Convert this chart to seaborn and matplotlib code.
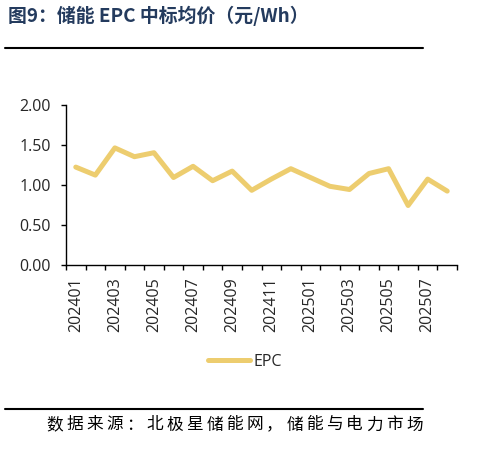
import matplotlib
matplotlib.use("Agg")
import matplotlib.pyplot as plt
import seaborn as sns
import pandas as pd
import numpy as np

months = ["202401", "202402", "202403", "202404", "202405", "202406", "202407",
          "202408", "202409", "202410", "202411", "202412", "202501", "202502",
          "202503", "202504", "202505", "202506", "202507", "202508"]
epc = [1.22, 1.12, 1.46, 1.35, 1.40, 1.09, 1.23, 1.05, 1.17, 0.93,
       1.07, 1.20, 1.09, 0.98, 0.94, 1.14, 1.20, 0.74, 1.07, 0.92]
y_ticks = [0.0, 0.5, 1.0, 1.5, 2.0]
title = "图9：储能 EPC 中标均价（元/Wh）"
source = "数据来源：北极星储能网，储能与电力市场"

sns.set_theme(style="white")
plt.rcParams['font.family'] = ['Open Sans', 'Noto Sans CJK SC', 'DejaVu Sans']
cjk = ['Noto Sans CJK SC', 'DejaVu Sans']

df = pd.DataFrame({"idx": np.arange(len(months)), "month": months, "EPC": epc})

W, H = 482, 451
fig = plt.figure(figsize=(W/100, H/100), dpi=100)
ax = fig.add_axes([66/W, 1 - 264.7/H, (457-66)/W, 160/H])

line_color = "#EDCD6F"
sns.lineplot(data=df, x="idx", y="EPC", ax=ax, color=line_color, linewidth=3.6,
             label="EPC", legend=False)

ax.set_xlim(-0.5, len(months) - 0.5)
ax.set_ylim(0, 2.0)
ax.set_yticks(y_ticks)
ax.set_yticklabels([f"{v:.2f}" for v in y_ticks], fontsize=11.5)
ax.set_xticks(np.arange(-0.5, len(months), 1.0))
ax.set_xticklabels([])
ax.set_xticks(np.arange(0, len(months), 2), minor=True)
ax.set_xticklabels([months[i] for i in range(0, len(months), 2)], minor=True,
                   rotation=90, fontsize=11.5)
ax.tick_params(axis="x", which="major", direction="out", length=3.6, width=1, color="black", bottom=True)
ax.tick_params(axis="x", which="minor", length=0, pad=9, bottom=True)
ax.tick_params(axis="y", direction="out", length=3.6, width=1, color="black", left=True, pad=7.5)
ax.set_xlabel("")
ax.set_ylabel("")
for s in ["top", "right"]:
    ax.spines[s].set_visible(False)
for s in ["left", "bottom"]:
    ax.spines[s].set_color("black")
    ax.spines[s].set_linewidth(1)
ax.grid(False)

handles, labels = ax.get_legend_handles_labels()
fig.legend(handles, labels, loc="center", bbox_to_anchor=(245/W, 1 - 362/H),
           frameon=False, fontsize=11.5, handlelength=2.6, handletextpad=0.2)

fig.add_artist(plt.Line2D([5/W, 423/W], [1 - 48/H, 1 - 48/H],
                          transform=fig.transFigure, color="black", linewidth=1.5))
fig.add_artist(plt.Line2D([5/W, 423/W], [1 - 409/H, 1 - 409/H],
                          transform=fig.transFigure, color="black", linewidth=1.5))

renderer = fig.canvas.get_renderer()

# title, sized to span the same width as in the reference (x 8..308)
t = fig.text(8/W, 1 - 16/H, title, fontsize=13, fontweight="bold",
             color="#243B5E", va="center", ha="left", family=cjk)
tw = t.get_window_extent(renderer).width
t.set_fontsize(13 * 300 / tw)

# source line: characters spread evenly from x=46 to x=423
fs = 12
chars = [fig.text(0, 1 - 425/H, ch, fontsize=fs, color="black",
                  va="center", ha="left", family=cjk) for ch in source]
widths = [c.get_window_extent(renderer).width for c in chars]
gap = (423 - 46 - sum(widths)) / (len(chars) - 1)
x = 46.0
for c, w in zip(chars, widths):
    c.set_x(x / W)
    x += w + gap

fig.savefig("out.png", dpi=100)
